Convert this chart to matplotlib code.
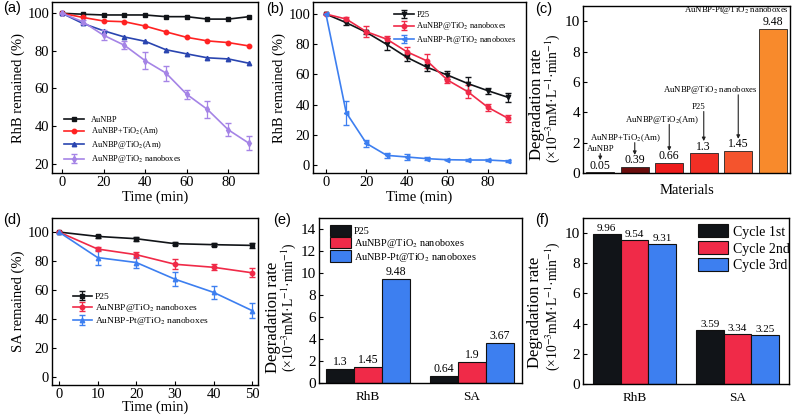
"""Six-panel photocatalytic degradation figure (a-f)."""
import matplotlib

matplotlib.use("Agg")

import matplotlib.pyplot as plt
import numpy as np

plt.rcParams["font.family"] = "serif"
plt.rcParams["font.serif"] = ["Liberation Serif", "DejaVu Serif"]
plt.rcParams["mathtext.fontset"] = "stix"
plt.rcParams["axes.linewidth"] = 1.0

# ---- data -------------------------------------------------------------
time_a = [0, 10, 20, 30, 40, 50, 60, 70, 80, 90]
a_aunbp = [100, 99.5, 99.1, 99.1, 99.1, 98.2, 98.2, 96.9, 96.9, 98.2]
a_tio2_am_mix = [100, 97.8, 95.9, 95.5, 93.2, 90.1, 87.2, 85.3, 84.4, 82.6]
a_tio2_am_core = [100, 94.6, 90.7, 87.4, 85.1, 80.6, 78.4, 76.3, 75.7, 73.4]
a_nanobox = [100, 95.5, 88.3, 83.0, 74.8, 68.2, 56.9, 48.8, 38.0, 30.8]
a_nanobox_err = [0, 1.0, 2.7, 2.2, 4.5, 4.0, 2.5, 4.7, 3.4, 3.8]

time_b = [0, 10, 20, 30, 40, 50, 60, 70, 80, 90]
b_p25 = [100, 94.3, 87.9, 79.9, 71.3, 64.7, 59.6, 54.0, 49.2, 44.8]
b_p25_err = [0, 1.5, 1.0, 4.0, 2.5, 2.5, 2.5, 4.0, 2.0, 3.0]
b_nanobox = [100, 96.7, 88.3, 83.4, 75.0, 68.9, 56.3, 48.6, 38.2, 30.9]
b_nanobox_err = [0, 1.5, 3.5, 2.0, 3.5, 4.5, 2.0, 4.5, 2.5, 2.5]
b_pt = [100, 34.7, 14.3, 6.4, 5.3, 4.2, 3.5, 3.3, 3.3, 2.6]
b_pt_err = [0, 8.0, 2.5, 1.5, 1.7, 1.0, 0.5, 0.5, 0.5, 0.4]

c_labels = ["AuNBP", "AuNBP+TiO$_2$(Am)", "AuNBP@TiO$_2$(Am)", "P25",
            "AuNBP@TiO$_2$ nanoboxes", "AuNBP-Pt@TiO$_2$ nanoboxes"]
c_rates = [0.05, 0.39, 0.66, 1.3, 1.45, 9.48]
c_value_text = ["0.05", "0.39", "0.66", "1.3", "1.45", "9.48"]
c_colors = ["#3a0505", "#6b0d0d", "#ee1b1b", "#f22f25", "#f4542d", "#f88a2c"]

time_d = [0, 10, 20, 30, 40, 50]
d_p25 = [100, 97.0, 95.4, 92.0, 91.3, 90.8]
d_p25_err = [0, 1.0, 1.5, 1.0, 1.0, 1.5]
d_nanobox = [100, 88.3, 84.4, 77.8, 75.7, 71.9]
d_nanobox_err = [0, 1.5, 2.0, 3.5, 2.0, 3.0]
d_pt = [100, 82.4, 79.0, 67.5, 58.4, 45.8]
d_pt_err = [0, 5.0, 3.5, 5.0, 4.5, 5.0]

pollutants = ["RhB", "SA"]
e_series = ["P25", "AuNBP@TiO$_2$ nanoboxes", "AuNBP-Pt@TiO$_2$ nanoboxes"]
e_rates = [[1.3, 0.64], [1.45, 1.9], [9.48, 3.67]]
e_value_text = [["1.3", "0.64"], ["1.45", "1.9"], ["9.48", "3.67"]]

f_series = ["Cycle 1st", "Cycle 2nd", "Cycle 3rd"]
f_rates = [[9.96, 3.59], [9.54, 3.34], [9.31, 3.25]]
f_value_text = [["9.96", "3.59"], ["9.54", "3.34"], ["9.31", "3.25"]]

BLACK = "#111418"
RED = "#f02a48"
BLUE = "#3d7ff0"
RATE_LINE1 = "Degradation rate"
RATE_LINE2 = "(×10$^{-3}$mM·L$^{-1}$·min$^{-1}$)"

W, H = 792, 419
TICK_FS = 10.5
LABEL_FS = 10.5


def _axes(fig, left, top, right, bottom):
    return fig.add_axes([left / W, 1 - bottom / H, (right - left) / W, (bottom - top) / H])


def _style(ax, fs=TICK_FS):
    ax.tick_params(direction="in", length=3, width=0.8, labelsize=fs, pad=2)


def _rate_label(ax, x1, x2, y1, y2):
    # two-line y label, placed as separate rotated texts
    ax.text(x1, y1, RATE_LINE1, transform=ax.transAxes, rotation=90,
            ha="center", va="center", fontsize=12)
    ax.text(x2, y2, RATE_LINE2, transform=ax.transAxes, rotation=90,
            ha="center", va="center", fontsize=9.8)


def _panel_label(fig, text, x, y):
    fig.text(x / W, 1 - y / H, text, family="Liberation Sans", fontsize=10.5,
             ha="center", va="center")


fig = plt.figure(figsize=(7.92, 4.19), dpi=100)

# ---- (a) --------------------------------------------------------------
ax = _axes(fig, 52, 2, 258, 173)
kw = dict(lw=1.2, ms=3.2)
ax.plot(time_a, a_aunbp, "-s", color=BLACK, label="AuNBP", **kw)
ax.plot(time_a, a_tio2_am_mix, "-o", color="#ff2222", label="AuNBP+TiO$_2$(Am)", **kw)
ax.plot(time_a, a_tio2_am_core, "-^", color="#2a45b0", label="AuNBP@TiO$_2$(Am)", **kw)
ax.errorbar(time_a, a_nanobox, yerr=a_nanobox_err, fmt="-d", color="#a584e6",
            capsize=2, elinewidth=0.9, label="AuNBP@TiO$_2$ nanoboxes", **kw)
ax.set_xlim(-4.8, 94.3)
ax.set_ylim(15, 106)
ax.set_xticks([0, 20, 40, 60, 80])
ax.set_yticks([20, 40, 60, 80, 100])
ax.set_xlabel("Time (min)", fontsize=LABEL_FS, labelpad=1)
ax.set_ylabel("RhB remained (%)", fontsize=LABEL_FS, labelpad=2)
_style(ax)
ax.legend(loc="upper left", bbox_to_anchor=(0.03, 0.37), fontsize=6, frameon=False,
          handlelength=2.4, labelspacing=0.25, borderpad=0.2)

# ---- (b) --------------------------------------------------------------
ax = _axes(fig, 313, 2, 526, 173)
ax.errorbar(time_b, b_p25, yerr=b_p25_err, fmt="-v", color=BLACK, capsize=2,
            elinewidth=0.9, label="P25", **kw)
ax.errorbar(time_b, b_nanobox, yerr=b_nanobox_err, fmt="-o", color=RED, capsize=2,
            elinewidth=0.9, label="AuNBP@TiO$_2$ nanoboxes", **kw)
ax.errorbar(time_b, b_pt, yerr=b_pt_err, fmt="-<", color=BLUE, capsize=2,
            elinewidth=0.9, label="AuNBP-Pt@TiO$_2$ nanoboxes", **kw)
ax.set_xlim(-6.4, 98.8)
ax.set_ylim(-5.3, 108)
ax.set_xticks([0, 20, 40, 60, 80])
ax.set_yticks([0, 20, 40, 60, 80, 100])
ax.set_xlabel("Time (min)", fontsize=LABEL_FS, labelpad=1)
ax.set_ylabel("RhB remained (%)", fontsize=LABEL_FS, labelpad=2)
_style(ax)
ax.legend(loc="upper right", bbox_to_anchor=(1.0, 1.0), fontsize=6, frameon=False,
          handlelength=2.4, labelspacing=0.15, borderpad=0.6, handletextpad=0.3)

# ---- (c) --------------------------------------------------------------
ax = _axes(fig, 583, 6, 790, 173)
xc = np.arange(len(c_rates))
ax.bar(xc, c_rates, width=0.8, color=c_colors, edgecolor="#222222", linewidth=0.6)
for i, (v, t) in enumerate(zip(c_rates, c_value_text)):
    ax.annotate(t, (i, v), xytext=(0, 0.5), textcoords="offset points",
                ha="center", va="bottom", fontsize=8.5)
# name labels, each with a vertical arrow down to its value label
c_label_y = [1.58, 2.3, 3.5, 4.35, 5.45]
c_label_x = [0.0, 0.73, 1.79, 2.86, 3.18]
for i in range(5):
    ax.text(c_label_x[i], c_label_y[i], c_labels[i], ha="center", va="center", fontsize=6.3)
    ax.annotate("", xy=(i, c_rates[i] + 0.8), xytext=(i, c_label_y[i] - 0.3),
                arrowprops=dict(arrowstyle="-|>", color="#222222", lw=0.8,
                                mutation_scale=5, shrinkA=0, shrinkB=0))
ax.text(5.47, 10.72, c_labels[5], ha="right", va="center", fontsize=6.3)
ax.set_xlim(-0.5, 5.5)
ax.set_ylim(0, 11)
ax.set_xticks([])
ax.set_yticks([0, 2, 4, 6, 8, 10])
ax.set_xlabel("Materials", fontsize=LABEL_FS, labelpad=8)
_style(ax, fs=11)
_rate_label(ax, -0.222, -0.145, 0.41, 0.45)

# ---- (d) --------------------------------------------------------------
ax = _axes(fig, 52, 218, 258, 385)
ax.errorbar(time_d, d_p25, yerr=d_p25_err, fmt="-s", color=BLACK, capsize=2,
            elinewidth=0.9, label="P25", **kw)
ax.errorbar(time_d, d_nanobox, yerr=d_nanobox_err, fmt="-o", color=RED, capsize=2,
            elinewidth=0.9, label="AuNBP@TiO$_2$ nanoboxes", **kw)
ax.errorbar(time_d, d_pt, yerr=d_pt_err, fmt="-^", color=BLUE, capsize=2,
            elinewidth=0.9, label="AuNBP-Pt@TiO$_2$ nanoboxes", **kw)
ax.set_xlim(-1.8, 51.5)
ax.set_ylim(-5.5, 109.7)
ax.set_xticks(time_d)
ax.set_yticks([0, 20, 40, 60, 80, 100])
ax.set_xlabel("Time (min)", fontsize=LABEL_FS, labelpad=0)
ax.set_ylabel("SA remained (%)", fontsize=LABEL_FS, labelpad=2)
_style(ax)
ax.legend(loc="upper left", bbox_to_anchor=(0.07, 0.595), fontsize=6.8, frameon=False,
          handlelength=2.0, labelspacing=0.12, borderpad=0.2, handletextpad=0.3)


# ---- (e) and (f) grouped bars ----------------------------------------
def _grouped(ax, rates, texts, names, colors, value_fs):
    xg = np.arange(len(pollutants))
    w = 0.27
    for k, (vals, txt, name, col) in enumerate(zip(rates, texts, names, colors)):
        xs = xg + (k - 1) * w
        ax.bar(xs, vals, width=w, color=col, edgecolor="#111111", linewidth=0.8, label=name)
        for x, v, t in zip(xs, vals, txt):
            ax.annotate(t, (x, v), xytext=(0, 0.5), textcoords="offset points",
                        ha="center", va="bottom", fontsize=value_fs)
    ax.set_xticks(xg)
    ax.set_xticklabels(pollutants, fontsize=9.5)
    ax.tick_params(axis="x", length=0, pad=6)
    ax.tick_params(axis="y", direction="in", length=3, width=0.8, labelsize=11, pad=2)


ax = _axes(fig, 319, 218, 522, 383)
_grouped(ax, e_rates, e_value_text, e_series, [BLACK, RED, BLUE], 8.5)
ax.set_xlim(-0.47, 1.48)
ax.set_ylim(0, 15)
ax.set_yticks([0, 2, 4, 6, 8, 10, 12, 14])
_rate_label(ax, -0.227, -0.148, 0.40, 0.46)
ax.legend(loc="upper left", bbox_to_anchor=(0.02, 1.0), fontsize=7.4, frameon=False,
          handlelength=2.0, handleheight=1.3, labelspacing=0.05, borderpad=0.2,
          handletextpad=0.3)

ax = _axes(fig, 583, 218, 789, 384)
_grouped(ax, f_rates, f_value_text, f_series, [BLACK, RED, BLUE], 8)
ax.set_xlim(-0.5, 1.5)
ax.set_ylim(0, 11)
ax.set_yticks([0, 2, 4, 6, 8, 10])
_rate_label(ax, -0.233, -0.15, 0.43, 0.47)
ax.legend(loc="upper left", bbox_to_anchor=(0.51, 1.02), fontsize=10, frameon=False,
          handlelength=2.2, handleheight=1.05, labelspacing=0.2, borderpad=0.2,
          handletextpad=0.3)

for text, x, y in [("(a)", 12, 8), ("(b)", 275, 9), ("(c)", 544, 9),
                   ("(d)", 12, 220), ("(e)", 282, 220), ("(f)", 542, 220)]:
    _panel_label(fig, text, x, y)

fig.savefig("out.png", dpi=100)
plt.close(fig)
